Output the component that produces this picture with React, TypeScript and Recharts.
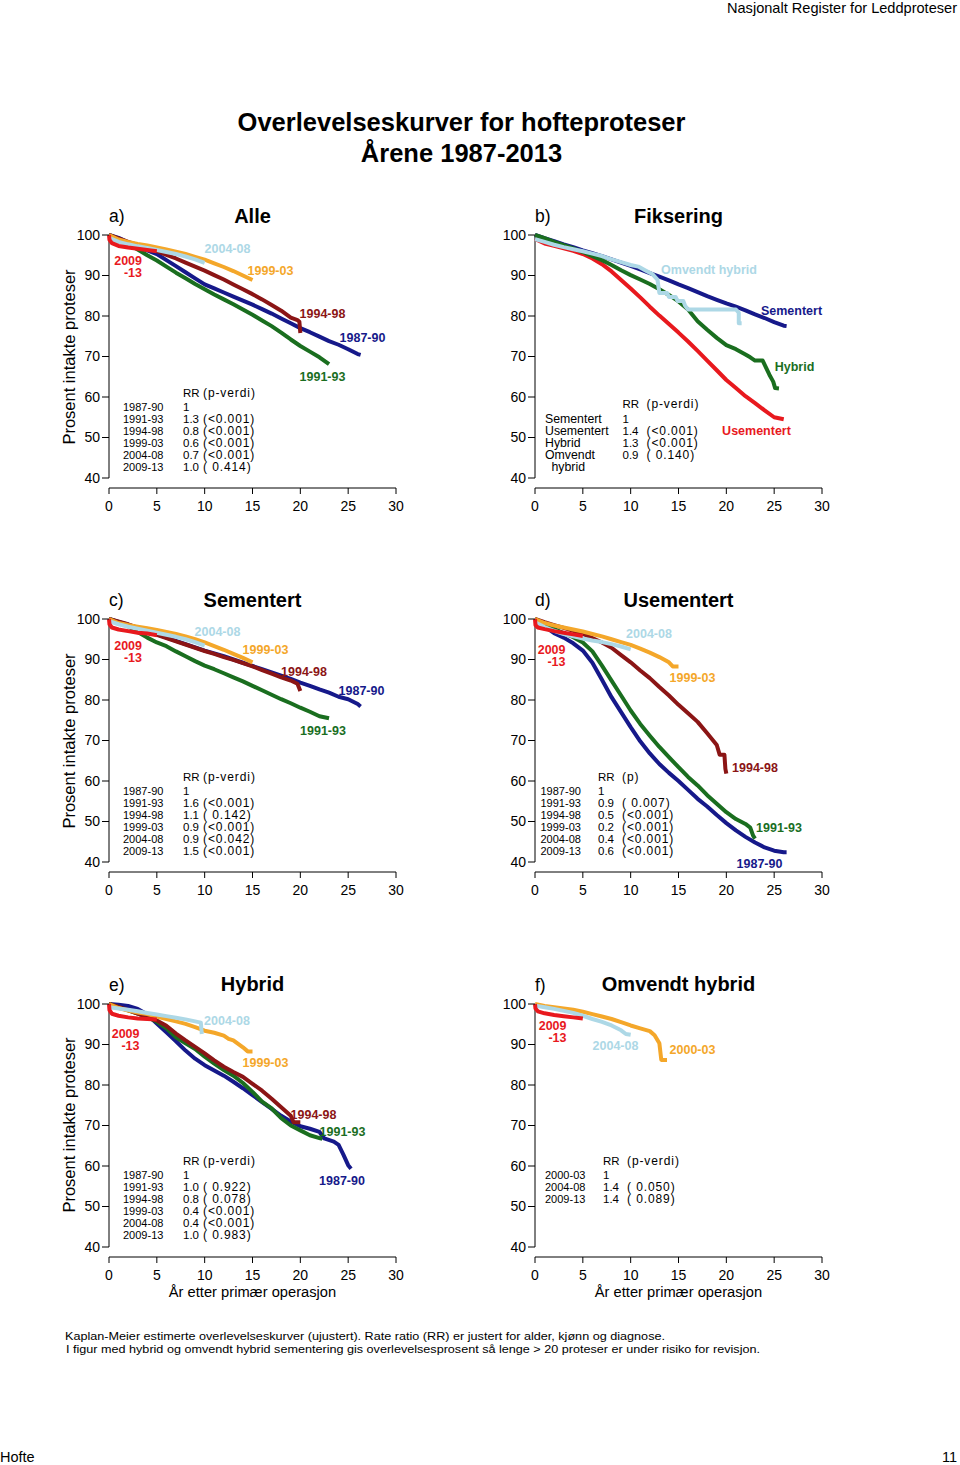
import React from 'react';
import { LineChart, Line, XAxis, YAxis, ReferenceLine } from 'recharts';

type P = [number, number];

const COL = {
  navy: '#16198a',
  green: '#1a6e1f',
  brown: '#8b1515',
  orange: '#f4a72a',
  light: '#add8e6',
  red: '#e8191e',
};

const xTicks = [0, 5, 10, 15, 20, 25, 30];
const yTicks = [40, 50, 60, 70, 80, 90, 100];

// ---------- a) Alle ----------
const alle8790: P[] = [[0,100],[1,99.3],[2,98.2],[3,97.0],[4,96.2],[5,95.3],[6,93.8],[7,92.3],[8,90.8],[9,89.3],[10,87.8],[11,86.8],[12,85.8],[13,84.8],[14,83.8],[15,82.8],[16,81.7],[17,80.6],[18,79.4],[19,78.2],[20,77.0],[21,76.0],[22,74.9],[23,73.8],[24,72.9],[25,71.8],[26,70.6],[26.3,70.4]];
const alle9193: P[] = [[0,100],[1,99.0],[2,97.8],[3,96.4],[4,95.0],[5,93.7],[6,92.2],[7,90.7],[8,89.3],[9,87.9],[10,86.6],[11,85.3],[12,84.1],[13,82.9],[14,81.6],[15,80.3],[16,78.9],[17,77.5],[18,75.9],[19,74.2],[20,72.6],[21,71.2],[22,69.8],[23,68.1]];
const alle9498: P[] = [[0,100],[2,98.3],[4,96.8],[5,96.0],[6,95.1],[7,94.2],[8,93.2],[9,92.2],[10,91.2],[11,90.1],[12,89.0],[13,87.8],[14,86.6],[15,85.4],[16,84.1],[17,82.7],[18,81.3],[19,79.6],[19.7,79.0],[19.9,78.6],[20,75.8]];
const alle9903: P[] = [[0,100],[1,98.9],[2,98.3],[3,97.8],[4,97.4],[5,96.9],[6,96.4],[7,95.9],[8,95.3],[9,94.6],[10,93.9],[11,93.0],[12,92.1],[13,91.1],[14,90.0],[15,88.9]];
const alle0408: P[] = [[0,99.3],[1,98.3],[2,97.7],[3,97.2],[4,96.8],[5,96.3],[6,95.8],[7,95.3],[8,94.7],[9,94.0],[10,93.1]];
const alle0913: P[] = [[0,100],[0.05,98.8],[0.3,98.0],[1,97.3],[2,96.9],[3,96.6],[4,96.3],[5,96.0]];

// ---------- b) Fiksering ----------
const fiksSementert: P[] = [[0,100],[1,99.2],[2,98.5],[3,97.7],[4,97.0],[5,96.2],[6,95.5],[7,94.8],[8,94.0],[9,93.2],[10,92.4],[11,91.5],[12,90.6],[13,89.7],[14,88.8],[15,87.8],[16,86.9],[17,85.9],[18,84.9],[19,84.0],[20,83.1],[21,82.3],[22,81.4],[23,80.4],[24,79.5],[25,78.5],[26,77.6],[26.3,77.5]];
const fiksUsementert: P[] = [[0,99.0],[1,97.9],[2,97.3],[3,96.7],[4,96.1],[5,95.3],[6,94.2],[7,92.8],[8,91.0],[9,88.9],[10,86.8],[11,84.6],[12,82.3],[13,80.1],[14,78.0],[15,75.9],[16,73.7],[17,71.4],[18,69.0],[19,66.6],[20,64.2],[21,62.2],[22,60.2],[23,58.5],[24,56.7],[25,55.0],[26,54.5]];
const fiksHybrid: P[] = [[0,100],[1,99.2],[2,98.3],[3,97.5],[4,96.7],[5,95.8],[6,94.8],[7,93.8],[8,92.6],[9,91.3],[10,90.1],[11,89.0],[12,87.9],[13,86.6],[14,85.2],[15,83.6],[16,81.6],[17,78.7],[18,76.6],[19,74.6],[20,72.8],[21,71.8],[22,70.5],[22.5,69.8],[23,69.0],[23.8,69.0],[24.1,67.5],[24.5,65.5],[24.9,63.8],[25.1,62.2],[25.5,62.1]];
const fiksOmvendt: P[] = [[0,99.0],[1,98.3],[2,97.6],[3,97.0],[4,96.5],[5,96.0],[6,95.4],[7,94.8],[8,94.0],[9,93.3],[10,92.6],[10.8,92.2],[11.5,91.3],[12.3,90.3],[12.8,89.0],[13.0,85.7],[13.8,85.7],[14.0,84.7],[14.7,84.7],[14.9,83.7],[15.5,83.7],[15.7,82.5],[16.0,81.6],[21.0,81.6],[21.3,80.8],[21.3,78.2],[21.6,78.2]];

// ---------- c) Sementert ----------
const sem8790: P[] = [[0,100],[1,99.3],[2,98.6],[3,97.8],[4,97.0],[5,96.2],[6,95.4],[7,94.6],[8,93.8],[9,93.0],[10,92.2],[11,91.5],[12,90.8],[13,90.0],[14,89.2],[15,88.4],[16,87.6],[17,86.8],[18,86.0],[19,85.2],[20,84.3],[21,83.5],[22,82.6],[23,81.8],[24,80.8],[25,80.2],[26,79.0],[26.3,78.4]];
const sem9193: P[] = [[0,100],[1,99.2],[2,98.2],[3,96.8],[4,95.4],[5,94.2],[6,93.3],[7,92.0],[8,90.8],[9,89.6],[10,88.5],[11,87.6],[12,86.6],[13,85.6],[14,84.6],[15,83.5],[16,82.4],[17,81.3],[18,80.2],[19,79.2],[20,78.1],[21,77.1],[22,76.0],[23,75.5]];
const sem9498: P[] = [[0,100],[2,98.7],[4,97.0],[5,96.1],[6,95.3],[7,94.5],[8,93.7],[9,92.9],[10,92.1],[11,91.4],[12,90.6],[13,89.9],[14,89.1],[15,88.3],[16,87.4],[17,86.5],[18,85.6],[19,84.8],[19.7,84.0],[20,82.2]];
const sem9903: P[] = [[0,100],[1,99.0],[2,98.5],[3,98.1],[4,97.7],[5,97.3],[6,96.8],[7,96.3],[8,95.7],[9,95.0],[10,94.2],[11,93.3],[12,92.4],[13,91.4],[14,90.4],[15,89.3]];
const sem0408: P[] = [[0,99.5],[1,98.7],[2,98.1],[3,97.6],[4,97.1],[5,96.6],[6,96.1],[7,95.6],[8,95.0],[9,94.3],[10,93.4]];
const sem0913: P[] = [[0,100],[0.05,98.7],[0.3,97.9],[1,97.4],[2,97.0],[3,96.6],[4,96.4],[5,96.0]];

// ---------- d) Usementert ----------
const use8790: P[] = [[0,100],[1,98.2],[2,96.5],[3,95.4],[4,94.0],[5,92.2],[6,89.2],[7,85.0],[8,80.7],[9,77.0],[10,73.3],[11,69.8],[12,66.8],[13,64.2],[14,62.0],[15,60.0],[16,57.8],[17,55.6],[18,53.7],[19,51.6],[20,49.6],[21,47.8],[22,46.2],[23,44.8],[24,43.6],[25,42.8],[26,42.4],[26.3,42.4]];
const use9193: P[] = [[0,100],[1,98.8],[2,97.5],[3,96.5],[4,95.5],[5,94.2],[6,92.0],[7,88.5],[8,84.8],[9,81.1],[10,77.4],[11,74.1],[12,71.2],[13,68.4],[14,65.9],[15,63.4],[16,61.0],[17,58.9],[18,56.5],[19,54.4],[20,52.3],[21,50.6],[22,49.4],[22.5,48.5],[22.8,46.5],[23,45.8]];
const use9498: P[] = [[0,100],[1,99.2],[2,98.5],[3,97.8],[4,97.1],[5,96.3],[6,95.3],[7,94.2],[8,92.9],[9,91.1],[10,89.3],[11,87.3],[12,85.4],[13,83.2],[14,81.1],[15,78.8],[16,76.7],[17,74.6],[18,71.8],[19,68.9],[19.3,66.5],[19.8,66.5],[19.9,63.0],[20,61.8]];
const use9903: P[] = [[0,100],[1,99.0],[2,98.4],[3,97.9],[4,97.4],[5,96.9],[6,96.3],[7,95.7],[8,95.0],[9,94.3],[10,93.6],[11,92.7],[12,91.7],[13,90.6],[14,89.3],[14.4,88.3],[15,88.3]];
const use0408: P[] = [[0,99.2],[1,98.0],[2,97.1],[3,96.3],[4,95.7],[5,95.2],[6,94.7],[7,94.3],[8,93.8],[9,93.2],[10,92.5]];
const use0913: P[] = [[0,100],[0.05,98.5],[0.3,97.9],[1,97.5],[2,97.0],[3,96.6],[4,96.2],[5,95.8]];

// ---------- e) Hybrid ----------
const hyb8790: P[] = [[0,100],[1,99.8],[2,99.5],[3,98.8],[4,97.4],[5,95.2],[6,93.0],[7,90.8],[8,88.5],[9,86.5],[10,84.9],[11,83.6],[12,82.3],[13,80.8],[14,79.2],[15,77.5],[16,75.8],[17,74.1],[18,72.4],[19,71.0],[20,69.8],[21,69.2],[22,68.4],[22.5,66.8],[23.5,66.0],[24,65.2],[24.5,62.8],[25,60.2],[25.3,59.3]];
const hyb9193: P[] = [[0,100],[1,99.2],[2,98.4],[3,97.6],[4,96.8],[5,95.6],[6,94.0],[7,91.8],[8,90.3],[9,88.9],[10,87.0],[11,85.3],[12,83.7],[13,82.3],[14,80.5],[15,78.3],[16,75.9],[17,74.2],[18,71.8],[19,70.0],[20,68.8],[21,67.6],[22,66.9],[22.3,66.7]];
const hyb9498: P[] = [[0,100],[1,99.3],[2,98.5],[3,97.6],[4,96.8],[5,95.9],[6,94.6],[7,92.7],[8,91.0],[9,89.4],[10,87.8],[11,86.1],[12,84.5],[13,83.2],[14,82.0],[15,80.3],[16,78.6],[17,76.6],[18,74.5],[19,72.4],[19.3,70.8],[20,70.8]];
const hyb9903: P[] = [[0,100],[1,99.0],[2,98.4],[3,97.9],[4,97.5],[5,96.9],[6,96.3],[7,95.7],[8,95.1],[9,94.3],[10,93.4],[11,92.9],[12,92.2],[12.5,91.4],[13,91.0],[14,89.3],[14.5,88.3],[15,88.3]];
const hyb0408: P[] = [[0,99.2],[1,98.9],[2,98.6],[3,98.2],[4,97.8],[5,97.4],[6,97.0],[7,96.6],[8,96.2],[9,95.7],[9.6,95.4],[9.7,92.6]];
const hyb0913: P[] = [[0,100],[0.05,98.5],[0.3,97.6],[1,97.1],[2,96.7],[3,96.4],[4,96.3],[5,96.2]];

// ---------- f) Omvendt hybrid ----------
const omv0003: P[] = [[0,100],[1,99.5],[2,99.2],[3,98.9],[4,98.6],[5,98.1],[6,97.5],[7,96.9],[8,96.3],[9,95.5],[10,94.7],[11,94.0],[12,93.3],[12.5,92.3],[13,90.3],[13.2,86.2],[13.8,86.2]];
const omv0408: P[] = [[0,99.6],[1,99.2],[2,98.8],[3,98.3],[4,97.8],[5,97.1],[6,96.3],[7,95.6],[8,94.7],[9,93.5],[9.5,92.6],[10,92.4]];
const omv0913: P[] = [[0,100],[0.05,98.9],[0.3,98.2],[1,97.7],[2,97.3],[3,97.0],[4,96.7],[5,96.4]];

// ---------- RR tables ----------
const periods = ['1987-90', '1991-93', '1994-98', '1999-03', '2004-08', '2009-13'];
const rrA = ['1', '1.3', '0.8', '0.6', '0.7', '1.0'];
const pA = ['', '(<0.001)', '(<0.001)', '(<0.001)', '(<0.001)', '( 0.414)'];
const fiksLabels = ['Sementert', 'Usementert', 'Hybrid', 'Omvendt'];
const rrB = ['1', '1.4', '1.3', '0.9'];
const pB = ['', '(<0.001)', '(<0.001)', '( 0.140)'];
const rrC = ['1', '1.6', '1.1', '0.9', '0.9', '1.5'];
const pC = ['', '(<0.001)', '( 0.142)', '(<0.001)', '(<0.042)', '(<0.001)'];
const rrD = ['1', '0.9', '0.5', '0.2', '0.4', '0.6'];
const pD = ['', '( 0.007)', '(<0.001)', '(<0.001)', '(<0.001)', '(<0.001)'];
const rrE = ['1', '1.0', '0.8', '0.4', '0.4', '1.0'];
const pE = ['', '( 0.922)', '( 0.078)', '(<0.001)', '(<0.001)', '( 0.983)'];
const omvLabels = ['2000-03', '2004-08', '2009-13'];
const rrF = ['1', '1.4', '1.4'];
const pF = ['', '( 0.050)', '( 0.089)'];

type S = { key: string; color: string; pts: P[] };

const toPts = (a: P[]) => a.map(([t, s]) => ({ t, s }));

const FONT = "'Liberation Sans', Arial, Helvetica, sans-serif";

function Panel({ left, top, series }: { left: number; top: number; series: S[] }) {
  return (
    <div style={{ position: 'absolute', left, top, width: 360, height: 320 }}>
      <LineChart width={360} height={320} margin={{ top: 35, right: 24, bottom: 2, left: 0 }}>
        <XAxis
          type="number"
          dataKey="t"
          domain={[0, 30]}
          ticks={xTicks}
          interval={0}
          height={30}
          tickSize={6}
          tickMargin={7}
          stroke="#000"
          axisLine={{ stroke: '#000' }}
          tickLine={{ stroke: '#000' }}
          tick={{ fill: '#000', fontSize: 14 }}
        />
        <YAxis
          type="number"
          domain={[40, 100]}
          ticks={yTicks}
          interval={0}
          width={49}
          padding={{ top: 0, bottom: 10 }}
          axisLine={false}
          tickSize={7}
          tickMargin={2}
          tickLine={{ stroke: '#000' }}
          tick={{ fill: '#000', fontSize: 14 }}
        />
        <ReferenceLine
          segment={[{ x: 0, y: 40 }, { x: 0, y: 100 }]}
          stroke="#000"
          strokeWidth={1}
          ifOverflow="visible"
        />
        {series.map((s) => (
          <Line
            key={s.key}
            data={toPts(s.pts)}
            dataKey="s"
            type="linear"
            stroke={s.color}
            strokeWidth={4}
            strokeLinejoin="round"
            dot={false}
            activeDot={false}
            isAnimationActive={false}
          />
        ))}
      </LineChart>
    </div>
  );
}

function T({ x, y, children, size = 11, anchor = 'start', weight = 'normal', fill = '#000', len, ls }: any) {
  return (
    <text
      x={x}
      y={y}
      fontSize={size}
      textAnchor={anchor}
      fontWeight={weight}
      fill={fill}
      textLength={len}
      lengthAdjust={len ? 'spacingAndGlyphs' : undefined}
      letterSpacing={ls}
      style={{ whiteSpace: 'pre' }}
    >
      {children}
    </text>
  );
}

function Table({ xl, xr, xp, yh, y0, labels, rr, p, head, labelSize = 11 }: any) {
  const step = 11.9;
  return (
    <g>
      <T x={xr} y={yh + 4} size={11.5}>RR</T>
      <T x={xp} y={yh + 4} size={12} ls={0.9}>{head}</T>
      {labels.map((l: string, i: number) => (
        <g key={l}>
          <T x={xl} y={y0 + i * step + 4} size={labelSize}>{l}</T>
          <T x={xr} y={y0 + i * step + 4} size={11.5}>{rr[i]}</T>
          <T x={xp} y={y0 + i * step + 4} size={12} ls={0.9}>{p[i]}</T>
        </g>
      ))}
    </g>
  );
}

function L({ x, y, c, children, anchor = 'middle' }: any) {
  return (
    <T x={x} y={y + 4.5} size={12.5} weight="bold" fill={c} anchor={anchor}>
      {children}
    </T>
  );
}

const periodSeries = (a: P[], b: P[], c: P[], d: P[], e: P[], f: P[]): S[] => [
  { key: '1987-90', color: COL.navy, pts: a },
  { key: '1991-93', color: COL.green, pts: b },
  { key: '1994-98', color: COL.brown, pts: c },
  { key: '1999-03', color: COL.orange, pts: d },
  { key: '2004-08', color: COL.light, pts: e },
  { key: '2009-13', color: COL.red, pts: f },
];

export default function App() {
  const seriesA = periodSeries(alle8790, alle9193, alle9498, alle9903, alle0408, alle0913);
  const seriesB: S[] = [
    { key: 'Sementert', color: COL.navy, pts: fiksSementert },
    { key: 'Usementert', color: COL.red, pts: fiksUsementert },
    { key: 'Hybrid', color: COL.green, pts: fiksHybrid },
    { key: 'Omvendt', color: COL.light, pts: fiksOmvendt },
  ];
  const seriesC = periodSeries(sem8790, sem9193, sem9498, sem9903, sem0408, sem0913);
  const seriesD = periodSeries(use8790, use9193, use9498, use9903, use0408, use0913);
  const seriesE = periodSeries(hyb8790, hyb9193, hyb9498, hyb9903, hyb0408, hyb0913);
  const seriesF: S[] = [
    { key: '2000-03', color: COL.orange, pts: omv0003 },
    { key: '2004-08', color: COL.light, pts: omv0408 },
    { key: '2009-13', color: COL.red, pts: omv0913 },
  ];

  return (
    <div
      style={{
        position: 'absolute',
        left: 0,
        top: 0,
        width: 960,
        height: 1465,
        background: '#fff',
        fontFamily: FONT,
        overflow: 'hidden',
      }}
    >
      <Panel left={60} top={200} series={seriesA} />
      <Panel left={486} top={200} series={seriesB} />
      <Panel left={60} top={584} series={seriesC} />
      <Panel left={486} top={584} series={seriesD} />
      <Panel left={60} top={969} series={seriesE} />
      <Panel left={486} top={969} series={seriesF} />

      <svg
        width={960}
        height={1465}
        style={{ position: 'absolute', left: 0, top: 0, pointerEvents: 'none', fontFamily: FONT }}
      >
        {/* header */}
        <T x={957} y={13} size={14.5} anchor="end" len={230}>Nasjonalt Register for Leddproteser</T>
        <T x={461.5} y={131} size={25.5} weight="bold" anchor="middle">Overlevelseskurver for hofteproteser</T>
        <T x={461.5} y={162} size={25.5} weight="bold" anchor="middle">Årene 1987-2013</T>

        {/* panel headings */}
        <T x={109} y={222} size={17.5}>a)</T>
        <T x={252.5} y={223} size={20} weight="bold" anchor="middle">Alle</T>
        <T x={535} y={222} size={17.5}>b)</T>
        <T x={678.5} y={223} size={20} weight="bold" anchor="middle">Fiksering</T>
        <T x={109} y={606} size={17.5}>c)</T>
        <T x={252.5} y={607} size={20} weight="bold" anchor="middle">Sementert</T>
        <T x={535} y={606} size={17.5}>d)</T>
        <T x={678.5} y={607} size={20} weight="bold" anchor="middle">Usementert</T>
        <T x={109} y={991} size={17.5}>e)</T>
        <T x={252.5} y={991} size={20} weight="bold" anchor="middle">Hybrid</T>
        <T x={535} y={991} size={17.5}>f)</T>
        <T x={678.5} y={991} size={20} weight="bold" anchor="middle">Omvendt hybrid</T>

        {/* y-axis titles */}
        {[357, 741, 1125].map((cy) => (
          <g key={cy} transform={`translate(75 ${cy}) rotate(-90)`}>
            <T x={0} y={0} size={16.5} anchor="middle">Prosent intakte proteser</T>
          </g>
        ))}

        {/* x-axis titles */}
        <T x={252.5} y={1297} size={14.7} anchor="middle">År etter primær operasjon</T>
        <T x={678.5} y={1297} size={14.7} anchor="middle">År etter primær operasjon</T>

        {/* curve labels a */}
        <L x={227.5} y={248.5} c={COL.light}>2004-08</L>
        <L x={142} y={260.5} c={COL.red} anchor="end">2009</L>
        <L x={142} y={272.5} c={COL.red} anchor="end">-13</L>
        <L x={270.5} y={270.5} c={COL.orange}>1999-03</L>
        <L x={322.5} y={313.5} c={COL.brown}>1994-98</L>
        <L x={362.5} y={337.5} c={COL.navy}>1987-90</L>
        <L x={322.5} y={376.5} c={COL.green}>1991-93</L>

        {/* curve labels b */}
        <L x={709} y={269.5} c={COL.light}>Omvendt hybrid</L>
        <L x={791.5} y={310} c={COL.navy}>Sementert</L>
        <L x={794.5} y={366.5} c={COL.green}>Hybrid</L>
        <L x={756.5} y={430} c={COL.red}>Usementert</L>

        {/* curve labels c */}
        <L x={217.5} y={631} c={COL.light}>2004-08</L>
        <L x={142} y={645} c={COL.red} anchor="end">2009</L>
        <L x={142} y={657} c={COL.red} anchor="end">-13</L>
        <L x={265.5} y={649.5} c={COL.orange}>1999-03</L>
        <L x={304} y={671} c={COL.brown}>1994-98</L>
        <L x={361.5} y={690} c={COL.navy}>1987-90</L>
        <L x={323} y={730.5} c={COL.green}>1991-93</L>

        {/* curve labels d */}
        <L x={649} y={633.5} c={COL.light}>2004-08</L>
        <L x={565.5} y={649} c={COL.red} anchor="end">2009</L>
        <L x={565.5} y={661} c={COL.red} anchor="end">-13</L>
        <L x={692.5} y={677} c={COL.orange}>1999-03</L>
        <L x={755} y={767} c={COL.brown}>1994-98</L>
        <L x={779} y={827} c={COL.green}>1991-93</L>
        <L x={759.5} y={863.5} c={COL.navy}>1987-90</L>

        {/* curve labels e */}
        <L x={227} y={1020.5} c={COL.light}>2004-08</L>
        <L x={139.5} y={1033} c={COL.red} anchor="end">2009</L>
        <L x={139.5} y={1045} c={COL.red} anchor="end">-13</L>
        <L x={265.5} y={1062} c={COL.orange}>1999-03</L>
        <L x={313.5} y={1114.5} c={COL.brown}>1994-98</L>
        <L x={342.5} y={1131.5} c={COL.green}>1991-93</L>
        <L x={342} y={1180.5} c={COL.navy}>1987-90</L>

        {/* curve labels f */}
        <L x={566.5} y={1025.5} c={COL.red} anchor="end">2009</L>
        <L x={566.5} y={1037} c={COL.red} anchor="end">-13</L>
        <L x={615.5} y={1045.5} c={COL.light}>2004-08</L>
        <L x={692.5} y={1049} c={COL.orange}>2000-03</L>

        {/* RR tables */}
        <Table xl={123} xr={183} xp={203} yh={392.5} y0={407} labels={periods} rr={rrA} p={pA} head="(p-verdi)" />
        <Table xl={545} xr={622.5} xp={646.5} yh={404} y0={419.3} labels={fiksLabels} rr={rrB} p={pB} head="(p-verdi)" labelSize={12.3} />
        <T x={551.5} y={470.5} size={12.3}>hybrid</T>
        <Table xl={123} xr={183} xp={203} yh={776.5} y0={791} labels={periods} rr={rrC} p={pC} head="(p-verdi)" />
        <Table xl={540.5} xr={598} xp={622} yh={776.5} y0={791} labels={periods} rr={rrD} p={pD} head="(p)" />
        <Table xl={123} xr={183} xp={203} yh={1160.5} y0={1175} labels={periods} rr={rrE} p={pE} head="(p-verdi)" />
        <Table xl={545} xr={603} xp={627} yh={1160.5} y0={1175} labels={omvLabels} rr={rrF} p={pF} head="(p-verdi)" />

        {/* footnotes */}
        <T x={65} y={1340} size={11.5} len={600}>Kaplan-Meier estimerte overlevelseskurver (ujustert). Rate ratio (RR) er justert for alder, kjønn og diagnose.</T>
        <T x={66} y={1353} size={11.5} len={694}>I figur med hybrid og omvendt hybrid sementering gis overlevelsesprosent så lenge &gt; 20 proteser er under risiko for revisjon.</T>
        <T x={0} y={1462} size={14.5}>Hofte</T>
        <T x={957} y={1462} size={14.5} anchor="end">11</T>
      </svg>
    </div>
  );
}
